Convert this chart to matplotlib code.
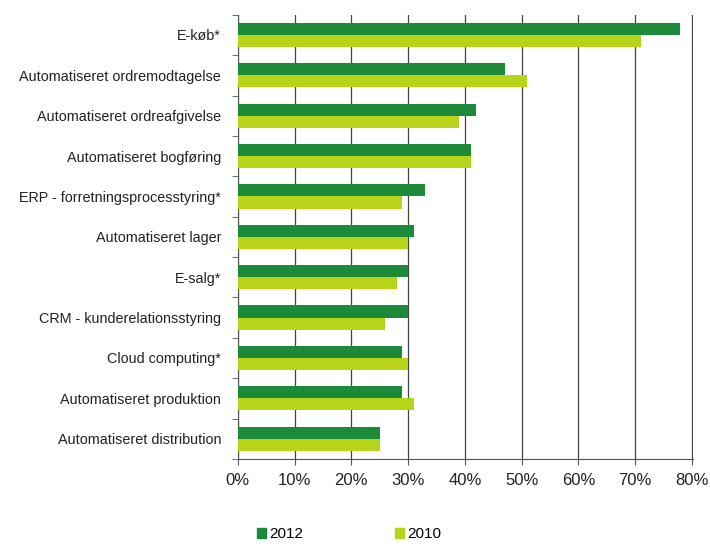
import numpy as np
import matplotlib.pyplot as plt
from matplotlib.patches import Patch

plt.rcParams['font.family'] = ['Liberation Sans', 'DejaVu Sans']

# Categories, top to bottom
categories = ["E-køb*", "Automatiseret ordremodtagelse", "Automatiseret ordreafgivelse",
              "Automatiseret bogføring", "ERP - forretningsprocesstyring*", "Automatiseret lager",
              "E-salg*", "CRM - kunderelationsstyring", "Cloud computing*",
              "Automatiseret produktion", "Automatiseret distribution"]
vals_2012 = [78, 47, 42, 41, 33, 31, 30, 30, 29, 29, 25]
vals_2010 = [71, 51, 39, 41, 29, 30, 28, 26, 30, 31, 25]
xticks = [0, 10, 20, 30, 40, 50, 60, 70, 80]

c2012 = "#1d8a3a"
c2010 = "#b8d418"

fig = plt.figure(figsize=(7.1, 5.47), dpi=100)
ax = fig.add_axes([0.335, 0.161, 0.641, 0.812])

n = len(categories)
y = np.arange(n)
h = 0.3
ax.barh(y - h / 2, vals_2012, height=h, color=c2012, zorder=3)
ax.barh(y + h / 2, vals_2010, height=h, color=c2010, zorder=3)

ax.set_ylim(n - 0.5, -0.5)
ax.set_xlim(0, 80.2)
ax.set_yticks(y)
ax.set_yticklabels(categories, fontsize=10.4, color="#222222")
ax.tick_params(axis="y", length=0, pad=12)
ax.set_yticks(np.arange(-0.5, n, 1), minor=True)
ax.tick_params(axis="y", which="minor", length=4, color="#555555")

ax.set_xticks(xticks)
ax.set_xticklabels([f"{t}%" for t in xticks], fontsize=12, color="#222222")
ax.tick_params(axis="x", length=4, color="#555555", pad=6)
ax.grid(axis="x", color="#444444", linewidth=0.9, zorder=0)

for s in ["top", "right"]:
    ax.spines[s].set_visible(False)
ax.spines["left"].set_color("#555555")
ax.spines["bottom"].set_color("#555555")

handles = [Patch(color=c2012, label="2012"), Patch(color=c2010, label="2010")]
fig.legend(handles=handles, loc="lower left", bbox_to_anchor=(0.343, -0.015), ncol=2,
           frameon=False, fontsize=11, handlelength=0.6, handleheight=0.6,
           handletextpad=0.2, columnspacing=6)

fig.savefig("out.png", dpi=100)
